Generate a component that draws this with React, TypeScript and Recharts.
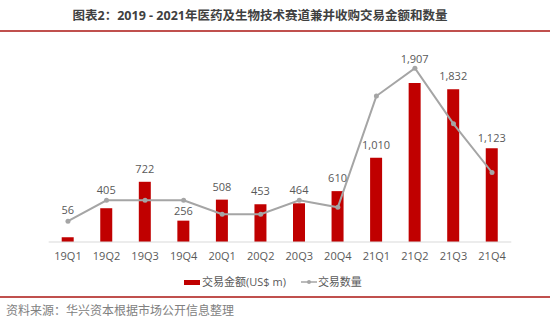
import { ComposedChart, Bar, Line, XAxis, YAxis, LabelList } from "recharts";

// quarters and values
const quarters = ["19Q1", "19Q2", "19Q3", "19Q4", "20Q1", "20Q2", "20Q3", "20Q4", "21Q1", "21Q2", "21Q3", "21Q4"];
const dealValue = [56, 405, 722, 256, 508, 453, 464, 610, 1010, 1907, 1832, 1123];
const dealCount = [3, 6, 6, 6, 4, 4, 6, 5, 21, 25, 17, 10];

const data = quarters.map((q, i) => ({ q, value: dealValue[i], count: dealCount[i] }));

const RED = "#C00000";
const GREY = "#A5A5A5";
const TEXT = "#595959";
const FONT = '"Open Sans", "Noto Sans CJK SC", sans-serif';

// some labels were nudged by hand in the original so they clear the line
const labelLift: Record<number, number> = { 0: 14, 1: 5, 3: -3, 9: 11, 11: -3 };

function ValueLabel(props: any) {
  const { x, y, width, value, index } = props;
  const lift = labelLift[index] ?? 0;
  return (
    <text
      x={x + width / 2}
      y={y - 9 - lift}
      textAnchor="middle"
      fill={TEXT}
      fontSize={11}
      fontFamily={FONT}
    >
      {Number(value).toLocaleString("en-US")}
    </text>
  );
}

export default function App() {
  return (
    <div
      style={{
        position: "relative",
        width: 554,
        height: 328,
        background: "#fff",
        fontFamily: FONT,
        overflow: "hidden",
      }}
    >
      <style>{"body{margin:0}"}</style>
      <div
        style={{
          position: "absolute",
          top: 7,
          left: 0,
          width: 520,
          textAlign: "center",
          fontSize: 12.5,
          fontWeight: 700,
          color: "#404040",
          lineHeight: "18px",
        }}
      >
        图表2：2019 - 2021年医药及生物技术赛道兼并收购交易金额和数量
      </div>
      <div style={{ position: "absolute", top: 30, left: 0, width: 550, height: 1.5, background: "#C0504D" }} />

      <div style={{ position: "absolute", top: 0, left: 0 }}>
        <ComposedChart
          width={554}
          height={270}
          data={data}
          margin={{ top: 33.5, right: 42.7, bottom: 0, left: 48.7 }}
        >
          <XAxis
            dataKey="q"
            height={28}
            interval={0}
            tickLine={false}
            stroke="#D9D9D9"
            tick={{ fill: TEXT, fontSize: 11, fontFamily: FONT }}
            tickMargin={4}
          />
          <YAxis yAxisId="left" domain={[0, 2500]} hide />
          <YAxis yAxisId="right" orientation="right" domain={[0, 30]} hide />
          <Bar yAxisId="left" dataKey="value" fill={RED} barSize={12} isAnimationActive={false}>
            <LabelList dataKey="value" content={ValueLabel} />
          </Bar>
          <Line
            yAxisId="right"
            dataKey="count"
            type="linear"
            stroke={GREY}
            strokeWidth={2}
            dot={{ r: 2.5, fill: GREY, stroke: GREY, strokeWidth: 0 }}
            activeDot={false}
            isAnimationActive={false}
          />
        </ComposedChart>
      </div>

      <div
        style={{
          position: "absolute",
          top: 274,
          left: 184,
          display: "flex",
          alignItems: "center",
          fontSize: 11,
          color: TEXT,
          lineHeight: "16px",
        }}
      >
        <span style={{ display: "inline-block", width: 16, height: 5, background: RED, marginRight: 2 }} />
        <span>交易金额(US$ m)</span>
        <svg width={16} height={8} style={{ marginLeft: 15, marginRight: 1 }}>
          <line x1={0} y1={4} x2={16} y2={4} stroke={GREY} strokeWidth={1.5} />
          <circle cx={8} cy={4} r={2} fill={GREY} />
        </svg>
        <span>交易数量</span>
      </div>

      <div style={{ position: "absolute", top: 296, left: 0, width: 550, height: 1.5, background: "#C0504D" }} />
      <div
        style={{
          position: "absolute",
          top: 303,
          left: 6,
          fontSize: 12,
          color: "#808080",
          lineHeight: "16px",
        }}
      >
        资料来源：华兴资本根据市场公开信息整理
      </div>
    </div>
  );
}
